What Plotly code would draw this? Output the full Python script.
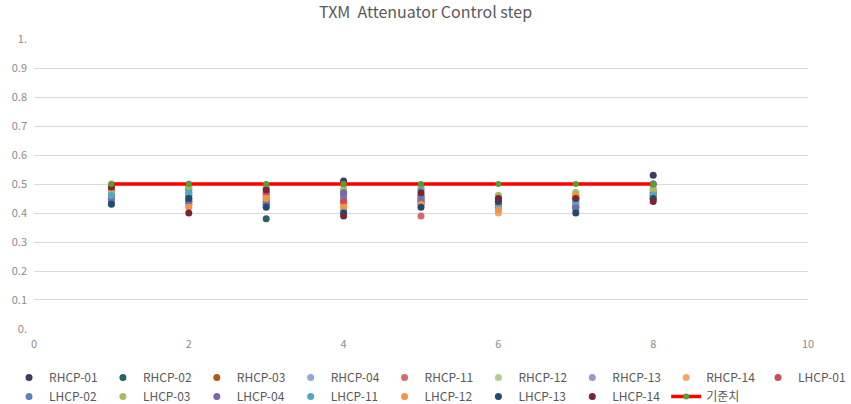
import plotly.graph_objects as go

x_steps = [1, 2, 3, 4, 5, 6, 7, 8]

series_names = ["RHCP-01", "RHCP-02", "RHCP-03", "RHCP-04", "RHCP-11", "RHCP-12", "RHCP-13", "RHCP-14",
                "LHCP-01", "LHCP-02", "LHCP-03", "LHCP-04", "LHCP-11", "LHCP-12", "LHCP-13", "LHCP-14"]

rhcp_01 = [0.46, 0.44, 0.43, 0.51, 0.44, 0.44, 0.42, 0.53]
rhcp_02 = [0.45, 0.46, 0.38, 0.50, 0.45, 0.45, 0.43, 0.50]
rhcp_03 = [0.47, 0.43, 0.47, 0.44, 0.43, 0.44, 0.45, 0.47]
rhcp_04 = [0.48, 0.49, 0.45, 0.47, 0.46, 0.43, 0.44, 0.48]
rhcp_11 = [0.49, 0.47, 0.46, 0.45, 0.39, 0.42, 0.46, 0.46]
rhcp_12 = [0.47, 0.48, 0.48, 0.48, 0.48, 0.46, 0.47, 0.49]
rhcp_13 = [0.45, 0.50, 0.44, 0.47, 0.45, 0.42, 0.43, 0.46]
rhcp_14 = [0.50, 0.43, 0.46, 0.43, 0.44, 0.40, 0.46, 0.47]
lhcp_01 = [0.48, 0.48, 0.47, 0.44, 0.46, 0.45, 0.45, 0.45]
lhcp_02 = [0.44, 0.45, 0.43, 0.46, 0.45, 0.43, 0.41, 0.47]
lhcp_03 = [0.47, 0.49, 0.49, 0.48, 0.49, 0.46, 0.47, 0.48]
lhcp_04 = [0.45, 0.44, 0.44, 0.47, 0.44, 0.44, 0.42, 0.50]
lhcp_11 = [0.46, 0.47, 0.45, 0.41, 0.48, 0.42, 0.44, 0.46]
lhcp_12 = [0.49, 0.42, 0.45, 0.42, 0.43, 0.41, 0.46, 0.45]
lhcp_13 = [0.43, 0.45, 0.42, 0.40, 0.42, 0.44, 0.40, 0.45]
lhcp_14 = [0.49, 0.40, 0.48, 0.39, 0.47, 0.45, 0.45, 0.44]

series_values = [rhcp_01, rhcp_02, rhcp_03, rhcp_04, rhcp_11, rhcp_12, rhcp_13, rhcp_14,
                 lhcp_01, lhcp_02, lhcp_03, lhcp_04, lhcp_11, lhcp_12, lhcp_13, lhcp_14]

series_colors = ["#3b3d5e", "#266163", "#b5561e", "#8ea9d2", "#d46a6a", "#b6cc8e", "#9c96c6", "#f3a766",
                 "#d24a58", "#5f7fbb", "#a2bd5e", "#7b67a8", "#4eaac3", "#f19545", "#1f4a72", "#7a2536"]

ref_name = "기준치"
ref_values = [0.5, 0.5, 0.5, 0.5, 0.5, 0.5, 0.5, 0.5]

y_tickvals = [0, 0.1, 0.2, 0.3, 0.4, 0.5, 0.6, 0.7, 0.8, 0.9, 1.0]
y_ticktext = ["0.", "0.1", "0.2", "0.3", "0.4", "0.5", "0.6", "0.7", "0.8", "0.9", "1."]
x_tickvals = [0, 2, 4, 6, 8, 10]

FONT = "Malgun Gothic, Noto Sans CJK KR, sans-serif"
W, H = 851, 404
ML, MR, MT, MB = 33, 43, 39, 74
PLOT_W = W - ML - MR
N_COLS = 9
COL_W = 94
LEG_LEFT = 8


def legend_id(i):
    col = i % N_COLS
    return "legend" if col == 0 else "legend%d" % (col + 1)


fig = go.Figure()
for i, (name, vals, col) in enumerate(zip(series_names, series_values, series_colors)):
    fig.add_trace(go.Scatter(x=x_steps, y=vals, mode="markers", name=name, legend=legend_id(i),
                             marker=dict(color=col, size=7)))
fig.add_trace(go.Scatter(x=x_steps, y=ref_values, mode="lines+markers", name=ref_name,
                         legend=legend_id(len(series_names)),
                         line=dict(color="#ff0000", width=3.5),
                         marker=dict(color="#5a9e32", size=6)))

legend_layouts = {}
for c in range(N_COLS):
    key = "legend" if c == 0 else "legend%d" % (c + 1)
    legend_layouts[key] = dict(
        orientation="v", xref="paper", yref="container",
        x=(LEG_LEFT + COL_W * c - ML) / PLOT_W, xanchor="left",
        y=0.1015, yanchor="top", bgcolor="rgba(0,0,0,0)", tracegroupgap=0,
        font=dict(family=FONT, size=12, color="#595959"))

fig.update_layout(
    width=W, height=H,
    paper_bgcolor="white", plot_bgcolor="white",
    margin=dict(l=ML, r=MR, t=MT, b=MB),
    title=dict(text="TXM\u00a0 Attenuator Control step", x=0.5, xanchor="center", y=0.97, yanchor="middle",
               font=dict(family=FONT, size=16, color="#595959")),
    font=dict(family=FONT, color="#595959"),
    xaxis=dict(range=[0, 10], tickvals=x_tickvals, showgrid=False, zeroline=False, showline=False,
               ticks="", ticklabelstandoff=7, tickfont=dict(size=11, color="#8c8c8c")),
    yaxis=dict(range=[0, 1.0], tickvals=y_tickvals, ticktext=y_ticktext, showgrid=True,
               gridcolor="#d9d9d9", gridwidth=1, zeroline=False, showline=False, ticks="",
               ticklabelstandoff=6, tickfont=dict(size=11, color="#8c8c8c")),
    showlegend=True,
    **legend_layouts,
)

fig.write_html("out.html", config={"displayModeBar": False},
               post_script="document.body.style.margin='0px';")
